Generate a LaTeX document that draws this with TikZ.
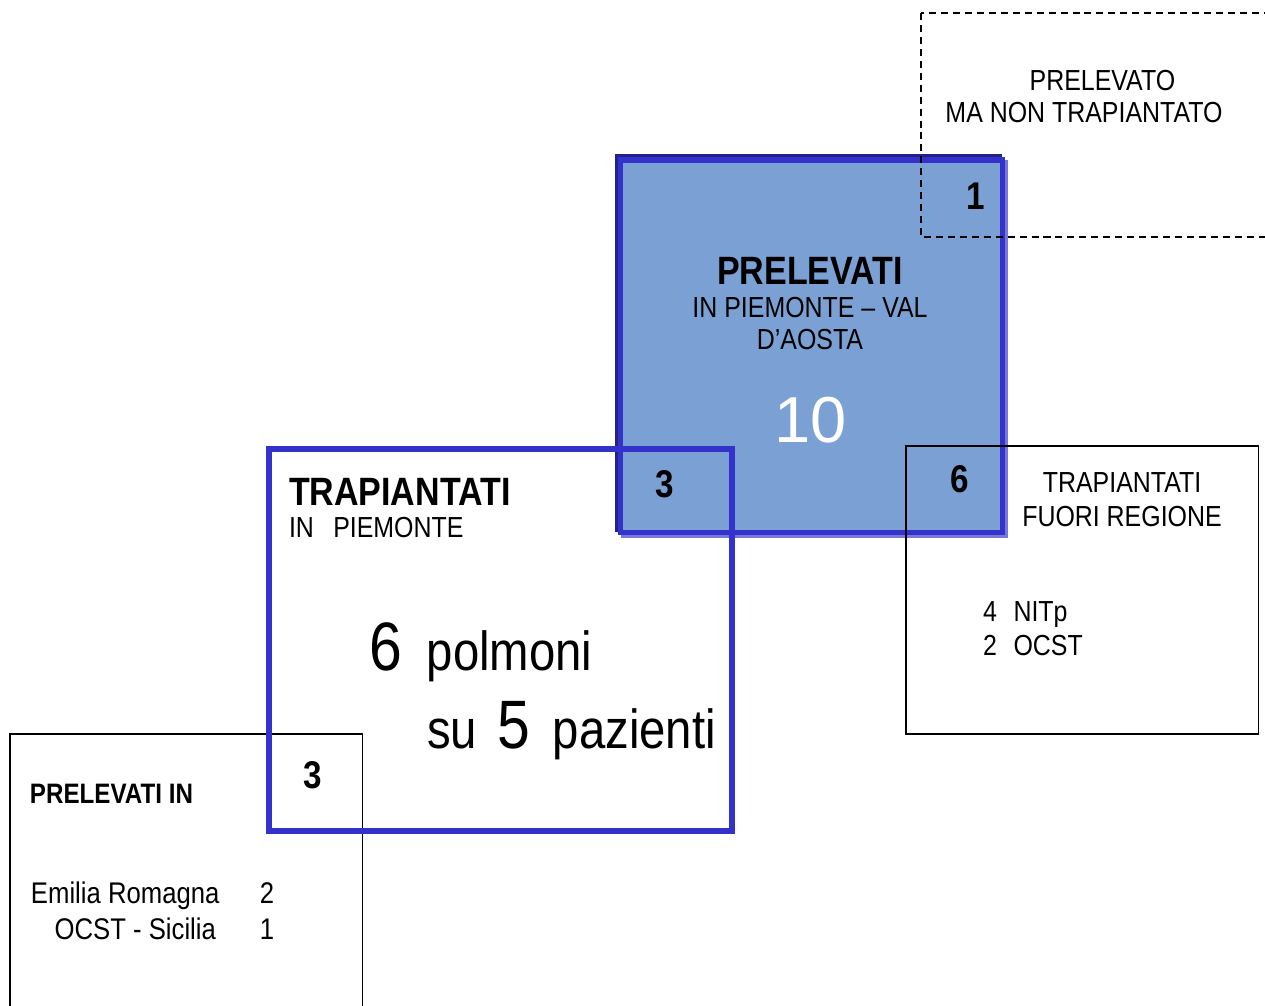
\documentclass[tikz,border=0pt]{standalone}
\usepackage{fontspec}
\setmainfont{Liberation Sans}[FakeStretch=0.86]
\newfontfamily\widefont{Liberation Sans}
\usetikzlibrary{positioning}
\definecolor{prelfill}{HTML}{7BA1D4}
\definecolor{venblue}{HTML}{3333CC}
\definecolor{venshade}{HTML}{222288}
\definecolor{venlight}{HTML}{7878DC}
\def\hdrfont{\bfseries\fontsize{22.5}{26}\selectfont}
\def\cntfont{\bfseries\fontsize{22}{26}\selectfont}
\def\numfont{\widefont\fontsize{37}{40}\selectfont}
\def\bignumfont{\fontsize{39}{42}\selectfont}
\def\polfont{\fontsize{31.3}{34}\selectfont}

\begin{document}
\begin{tikzpicture}[x=0.02cm,y=-0.02cm,
    every node/.style={inner sep=0pt,outer sep=0pt},
    txt/.style={font=\fontsize{16.5}{#1}\selectfont},txt/.default=18,
    hdr/.style={font=\hdrfont},
    cnt/.style={font=\cntfont},
    bluebox/.style={draw=venblue,line width=3.1pt},
    blackbox/.style={draw=black,line width=0.85pt}]
  \useasboundingbox (0,0) rectangle (1265,1006);
  % prelevati in Piemonte - Val d'Aosta
  \draw[venlight,line width=3.1pt] (623.5,163) rectangle (1005.5,535.5);
  \draw[venshade,line width=3.1pt] (617.5,157) rectangle (999.5,529.5);
  \draw[bluebox,fill=prelfill] (620.5,160) rectangle (1002.5,532.5);
  % other boxes
  \draw[blackbox,line width=0.7pt,dash pattern=on 4pt off 2.8pt] (921,13) rectangle (1290,237);
  \draw[blackbox] (906,446) rectangle (1258.5,734);
  \draw[blackbox] (10,734) rectangle (362.5,1030);
  \draw[bluebox] (269,449) rectangle (732,831);

  % counts
  \node[cnt] (cntone) at (976,196) {1};
  \node[cnt] (cntleft) at (665,484) {3};
  \node[cnt] (cntright) at (960,479) {6};
  \node[cnt] (cntlow) at (313,775) {3};

  \node[hdr,anchor=base] (prelhead) at (810,285) {PRELEVATI};
  \node[txt,below=0.66cm of prelhead.base,anchor=base] (prelsub)
    {\begin{tabular}[t]{@{}c@{}}IN PIEMONTE – VAL\\D’AOSTA\end{tabular}};
  \node[white,font=\numfont,anchor=base] (prelnum) at (811,443) {10};

  \node[txt,anchor=base] (nontrap) at (1084,91)
    {\begin{tabular}[t]{@{}c@{}}\hspace*{21pt}PRELEVATO\\MA NON TRAPIANTATO\end{tabular}};

  \node[hdr,anchor=base west] (traphead) at (289,506) {TRAPIANTATI};
  \node[txt,below=0.64cm of traphead.base west,anchor=base west] (trapsub) {IN\hspace{11pt}PIEMONTE};
  \node[font=\polfont,anchor=base west] (trappol) at (369,671) {{\bignumfont 6}\hspace{14.3pt}polmoni};
  \node[font=\polfont,anchor=base west] (trappaz) at (427,748) {su\hspace{11.8pt}{\bignumfont 5}\hspace{12.7pt}pazienti};

  \node[txt=19.3,anchor=base] (fuorihead) at (1122,493)
    {\begin{tabular}[t]{@{}c@{}}TRAPIANTATI\\FUORI REGIONE\end{tabular}};
  \node[txt=19.3,anchor=base west] (fuorilist) at (983,622)
    {\begin{tabular}[t]{@{}l@{}}4\hspace{9.5pt}NITp\\2\hspace{9.5pt}OCST\end{tabular}};

  \node[font=\bfseries\fontsize{16}{18}\selectfont,anchor=base west] (prelinhead) at (30,803) {PRELEVATI IN};
  \node[font=\fontsize{17}{21}\selectfont,anchor=base west] (prelinlist) at (31,903)
    {\begin{tabular}[t]{@{}r@{\hspace{23pt}}l@{}}Emilia Romagna & 2\\OCST - Sicilia\hspace{2pt} & 1\end{tabular}};
\end{tikzpicture}
\end{document}
